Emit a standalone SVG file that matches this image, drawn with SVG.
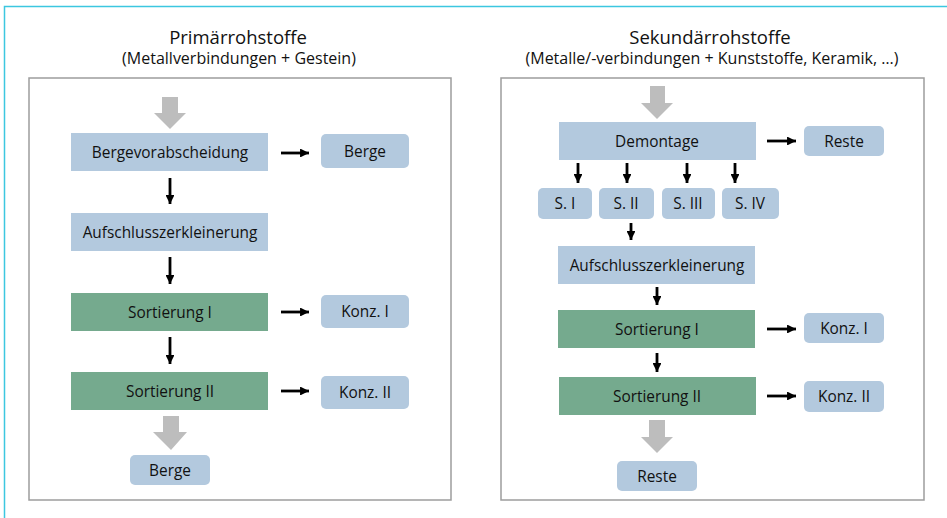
<svg xmlns="http://www.w3.org/2000/svg" width="947" height="518" viewBox="0 0 947 518">
  <defs>
    <marker id="head" viewBox="0 0 10 10" refX="10" refY="5" markerWidth="3.2" markerHeight="3.2" markerUnits="strokeWidth" orient="auto">
      <path d="M0,0 L10,5 L0,10 Z" fill="#000"/>
    </marker>
    <style>
      text { font-family: "Open Sans", "Noto Sans", "Liberation Sans", sans-serif; fill: #111; text-anchor: middle; }
      .title { font-size: 18.5px; }
      .sub { font-size: 16px; }
      .lbl { font-size: 15.4px; }
      .panel { fill: #fff; stroke: #9d9d9d; stroke-width: 1.5; }
      .step { fill: #b3c9de; }
      .sort { fill: #75aa8e; }
      .out { fill: #b3c9de; }
      .flow { stroke: #000; stroke-width: 2.8; fill: none; marker-end: url(#head); }
      .feed { fill: #bdbdbd; }
    </style>
  </defs>

  <rect width="947" height="518" fill="#fff"/>
  <!-- frame lines -->
  <path d="M4.5,518 V6.5 H947" fill="none" stroke="#3cc7e0" stroke-width="1.5"/>

  <!-- primary raw materials -->
  <text class="title" x="238" y="44">Primärrohstoffe</text>
  <text class="sub" x="239" y="64">(Metallverbindungen + Gestein)</text>
  <rect class="panel" x="29" y="78" width="422" height="422"/>

  <!-- secondary raw materials -->
  <text class="title" x="710" y="44">Sekundärrohstoffe</text>
  <text class="sub" x="712" y="64">(Metalle/-verbindungen + Kunststoffe, Keramik, …)</text>
  <rect class="panel" x="501" y="78" width="423" height="422"/>

  <!-- feed arrows -->
  <g id="feed-arrows">
    <path class="feed" d="M162,97 H178 V113 H186 L170,129 L154,113 H162 Z"/>
    <path class="feed" d="M163,416 H179 V432 H187 L171,450 L153,432 H163 Z"/>
    <path class="feed" d="M650,86 H665 V103 H673 L657,119 L641,103 H650 Z"/>
    <path class="feed" d="M649,420 H665 V437 H673 L657,453 L641,437 H649 Z"/>
  </g>

  <!-- left column nodes -->
  <g id="p-berge-vor"><rect class="step" x="71" y="133" width="197" height="38"/><text class="lbl" x="170" y="157.5">Bergevorabscheidung</text></g>
  <g id="p-berge1"><rect class="out" x="321" y="134" width="88" height="34" rx="5"/><text class="lbl" x="365" y="156.5">Berge</text></g>
  <g id="p-aufschluss"><rect class="step" x="71" y="213" width="197" height="38"/><text class="lbl" x="170" y="237.5">Aufschlusszerkleinerung</text></g>
  <g id="p-sort1"><rect class="sort" x="71" y="293" width="197" height="38"/><text class="lbl" x="170" y="317.5">Sortierung I</text></g>
  <g id="p-konz1"><rect class="out" x="321" y="295" width="88" height="33" rx="5"/><text class="lbl" x="365" y="317">Konz. I</text></g>
  <g id="p-sort2"><rect class="sort" x="71" y="372" width="197" height="38"/><text class="lbl" x="170" y="396.5">Sortierung II</text></g>
  <g id="p-konz2"><rect class="out" x="321" y="376" width="88" height="33" rx="5"/><text class="lbl" x="365" y="398">Konz. II</text></g>
  <g id="p-berge2"><rect class="out" x="130" y="455" width="80" height="30" rx="5"/><text class="lbl" x="170" y="475.5">Berge</text></g>

  <!-- right column nodes -->
  <g id="s-demontage"><rect class="step" x="559" y="122" width="197" height="38"/><text class="lbl" x="657" y="146.5">Demontage</text></g>
  <g id="s-reste1"><rect class="out" x="804" y="126" width="80" height="30" rx="5"/><text class="lbl" x="844" y="146.5">Reste</text></g>
  <g id="s-s1"><rect class="out" x="538" y="188" width="54" height="31" rx="5"/><text class="lbl" x="565" y="209">S. I</text></g>
  <g id="s-s2"><rect class="out" x="599" y="188" width="55" height="31" rx="5"/><text class="lbl" x="626" y="209">S. II</text></g>
  <g id="s-s3"><rect class="out" x="662" y="188" width="53" height="31" rx="5"/><text class="lbl" x="688" y="209">S. III</text></g>
  <g id="s-s4"><rect class="out" x="722" y="188" width="57" height="31" rx="5"/><text class="lbl" x="750" y="209">S. IV</text></g>
  <g id="s-aufschluss"><rect class="step" x="558" y="246" width="197" height="38"/><text class="lbl" x="657" y="270.5">Aufschlusszerkleinerung</text></g>
  <g id="s-sort1"><rect class="sort" x="558" y="310" width="197" height="38"/><text class="lbl" x="657" y="334.5">Sortierung I</text></g>
  <g id="s-konz1"><rect class="out" x="804" y="313" width="80" height="30" rx="5"/><text class="lbl" x="844" y="333.5">Konz. I</text></g>
  <g id="s-sort2"><rect class="sort" x="559" y="377" width="197" height="38"/><text class="lbl" x="657" y="401.5">Sortierung II</text></g>
  <g id="s-konz2"><rect class="out" x="804" y="381" width="80" height="31" rx="5"/><text class="lbl" x="844" y="402">Konz. II</text></g>
  <g id="s-reste2"><rect class="out" x="617" y="461" width="80" height="30" rx="5"/><text class="lbl" x="657" y="481.5">Reste</text></g>

  <!-- connectors -->
  <g id="connectors">
    <path class="flow" d="M281,153 H309"/>
    <path class="flow" d="M170,178 V204"/>
    <path class="flow" d="M170,257 V284"/>
    <path class="flow" d="M281,312 H309"/>
    <path class="flow" d="M170,337 V364"/>
    <path class="flow" d="M281,391 H309"/>

    <path class="flow" d="M767,141 H796"/>
    <path class="flow" d="M578,163 V183"/>
    <path class="flow" d="M627,163 V183"/>
    <path class="flow" d="M687,163 V183"/>
    <path class="flow" d="M735,163 V183"/>
    <path class="flow" d="M631,223 V240"/>
    <path class="flow" d="M657,287 V305"/>
    <path class="flow" d="M657,353 V372"/>
    <path class="flow" d="M767,329 H796"/>
    <path class="flow" d="M767,396 H796"/>
  </g>
</svg>
